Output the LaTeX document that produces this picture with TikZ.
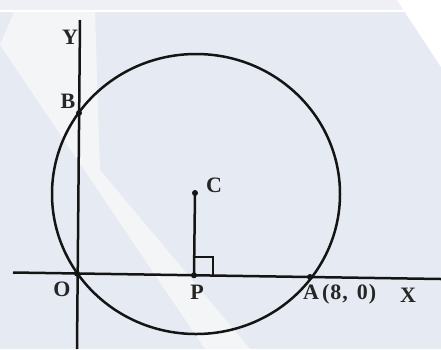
\documentclass[tikz,border=0pt]{standalone}
\usepackage{fontspec}
\setmainfont{Liberation Serif}
\begin{document}
\begin{tikzpicture}[x=1pt,y=-1pt,
  lbl/.style={font=\fontsize{22}{22}\selectfont\bfseries, inner sep=0pt, text=black!85},
  ln/.style={line width=2.5pt, black!92},
  dot/.style={circle, fill=black!92, inner sep=0pt, minimum size=6pt}]
\useasboundingbox (0,0) rectangle (441,349);
% background watermark
\fill[color={rgb,255:red,230;green,235;blue,243}] (0,0) rectangle (441,349);
\fill[color={rgb,255:red,238;green,240;blue,245}] (0,0) rectangle (441,10);
\fill[white] (0,10) rectangle (441,12);
\fill[color={rgb,255:red,244;green,245;blue,247}] (0,45) -- (14,12) -- (95,12) -- (100,170) -- (250,349) -- (205,349) -- cycle;
\fill[white] (397,0) -- (441,0) -- (441,67) -- cycle;
% points
\coordinate (Yt) at (80,20);
\coordinate (Yb) at (77,349);
\coordinate (Xl) at (13,272.5);
\coordinate (Xr) at (441,279);
\node[dot] (O) at (77,273.5) {};
\node[dot] (P) at (194,275.3) {};
\node[dot] (A) at (310,277) {};
\node[dot] (B) at (79,113) {};
\node[dot] (C) at (195,193) {};
% axes
\draw[ln] (Yt) -- (Yb);
\draw[ln] (Xl) -- (Xr);
% circle
\draw[ln] (196,194) ellipse [x radius=144, y radius=140];
% CP and right angle
\draw[ln] (C.center) -- (P.center);
\coordinate (Q1) at (194,257);
\coordinate (Q2) at (213,257);
\coordinate (Q3) at (213,275.6);
\draw[line width=2pt, black!92] (Q1) -- (Q2) -- (Q3);
% labels
\node[lbl] (Ylab) at (70,37) {Y};
\node[lbl] (Blab) at (68,101) {B};
\node[lbl] (Clab) at (214,185) {C};
\node[lbl] (Olab) at (62,289) {O};
\node[lbl] (Plab) at (197,292) {P};
\node[lbl, anchor=west] (Alab) at (303,294) {A\hspace{3pt}(\hspace{1pt}8\hspace{1pt},\hspace{9pt}0\hspace{1pt})};
\node[lbl] (Xlab) at (408,295) {X};
\end{tikzpicture}
\end{document}
